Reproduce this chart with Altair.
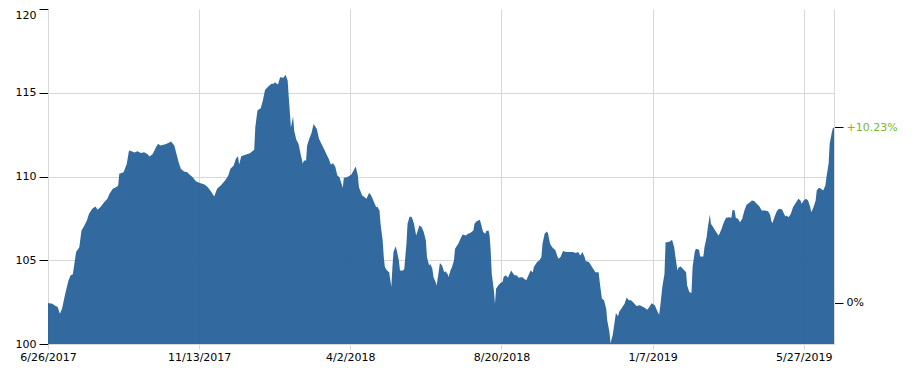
import altair as alt
import pandas as pd

start_date = "2017-06-26"
end_date = "2019-06-24"

# days since 2017-06-26
day_offsets = [
    0, 4, 7, 9, 11, 13, 16, 19, 21, 23, 24, 26, 29, 31, 33, 36, 38, 41, 44, 46,
    49, 52, 55, 57, 60, 63, 65, 66, 70, 73, 75, 78, 80, 83, 86, 89, 92, 94, 97, 100,
    102, 104, 108, 111, 114, 117, 119, 121, 123, 126, 129, 131, 134, 137, 140, 145, 148, 151, 154, 156,
    157, 160, 164, 167, 169, 172, 174, 176, 177, 179, 182, 187, 191, 192, 194, 197, 199, 201, 204, 207,
    209, 210, 213, 215, 218, 220, 222, 223, 225, 227, 228, 230, 232, 234, 236, 237, 239, 240, 242, 244,
    246, 249, 251, 253, 256, 258, 260, 262, 264, 266, 268, 270, 273, 274, 277, 281, 283, 285, 287, 288,
    291, 293, 295, 297, 298, 300, 302, 304, 305, 307, 308, 310, 311, 312, 314, 316, 318, 319, 320, 322,
    323, 325, 326, 329, 330, 332, 333, 335, 337, 339, 341, 343, 344, 346, 348, 350, 351, 353, 354, 356,
    357, 359, 360, 362, 363, 365, 367, 368, 370, 371, 373, 374, 376, 377, 380, 382, 384, 387, 389, 391,
    394, 395, 397, 400, 401, 403, 405, 406, 408, 409, 410, 411, 413, 414, 415, 417, 419, 421, 422, 424,
    426, 427, 429, 430, 432, 434, 436, 439, 441, 443, 445, 447, 449, 450, 453, 455, 457, 458, 460, 462,
    463, 465, 467, 470, 472, 473, 475, 477, 480, 483, 486, 489, 491, 493, 495, 497, 498, 501, 503, 506,
    507, 510, 511, 513, 515, 517, 518, 520, 521, 523, 525, 526, 528, 529, 532, 534, 536, 538, 540, 542,
    545, 548, 550, 553, 555, 557, 559, 562, 564, 566, 567, 569, 571, 572, 574, 576, 578, 580, 581, 583,
    584, 586, 588, 591, 592, 594, 596, 597, 599, 600, 603, 604, 607, 608, 610, 611, 613, 614, 616, 618,
    621, 622, 624, 626, 628, 631, 633, 634, 636, 637, 639, 641, 643, 645, 647, 649, 652, 654, 656, 659,
    661, 664, 667, 669, 670, 671, 673, 675, 677, 680, 681, 683, 684, 686, 688, 690, 693, 695, 697, 698,
    700, 702, 704, 706, 707, 709, 711, 712, 714, 716, 718, 720, 721, 723, 724, 726, 727, 728,
]

values = [
    102.45, 102.41, 102.27, 102.21, 101.81, 102.11, 103.01, 103.80, 104.10, 104.16,
    104.59, 105.49, 105.78, 106.78, 106.98, 107.38, 107.78, 108.07, 108.21, 108.01,
    108.21, 108.47, 108.67, 108.97, 109.27, 109.36, 109.46, 110.16, 110.26, 110.76,
    111.55, 111.49, 111.43, 111.51, 111.41, 111.45, 111.35, 111.19, 111.35, 111.75,
    111.95, 111.85, 111.91, 111.99, 112.09, 111.85, 111.35, 110.85, 110.46, 110.30,
    110.26, 110.12, 109.96, 109.72, 109.62, 109.52, 109.36, 109.11, 108.81, 109.17,
    109.30, 109.46, 109.76, 110.06, 110.46, 110.66, 111.06, 111.21, 110.72, 111.21,
    111.29, 111.39, 111.59, 112.94, 113.94, 114.07, 114.53, 115.17, 115.37, 115.53,
    115.53, 115.62, 115.49, 115.92, 115.89, 116.08, 115.72, 114.73, 112.94, 113.58,
    112.74, 112.19, 111.95, 111.35, 110.76, 110.95, 110.95, 111.85, 112.25, 112.58,
    113.14, 112.84, 112.25, 111.99, 111.59, 111.31, 111.06, 110.72, 110.79, 110.60,
    110.06, 109.96, 109.33, 109.92, 109.96, 110.12, 110.36, 110.60, 110.06, 109.36,
    108.87, 108.77, 108.67, 108.97, 109.00, 108.77, 108.47, 108.17, 108.21, 107.97,
    107.18, 106.18, 105.19, 104.59, 104.39, 104.29, 103.40, 104.59, 105.49, 105.83,
    105.59, 104.99, 104.39, 104.39, 104.50, 105.99, 107.18, 107.61, 107.57, 107.18,
    106.48, 106.88, 107.08, 106.98, 106.68, 106.18, 105.19, 104.69, 104.79, 104.50,
    104.00, 103.70, 103.50, 104.39, 104.83, 104.69, 104.29, 104.35, 104.20, 104.00,
    104.44, 104.56, 104.99, 105.69, 105.99, 106.28, 106.54, 106.48, 106.58, 106.62,
    106.78, 107.18, 107.33, 107.42, 107.18, 106.68, 106.58, 106.74, 106.78, 106.48,
    105.59, 104.20, 103.20, 102.41, 103.30, 103.50, 103.64, 103.70, 104.00, 104.10,
    103.96, 104.10, 104.39, 104.29, 104.10, 104.10, 103.96, 104.00, 103.90, 103.80,
    104.10, 104.39, 104.29, 104.59, 104.89, 104.99, 105.19, 105.99, 106.58, 106.72,
    106.62, 105.99, 105.78, 105.59, 105.19, 105.09, 105.23, 105.55, 105.49, 105.49,
    105.49, 105.43, 105.49, 105.29, 105.49, 105.19, 104.95, 104.89, 104.69, 104.39,
    104.29, 104.29, 103.70, 102.71, 102.61, 102.11, 101.41, 100.72, 100.06, 100.52,
    101.41, 101.85, 101.65, 101.91, 102.21, 102.41, 102.77, 102.61, 102.61, 102.50,
    102.27, 102.31, 102.25, 102.15, 102.05, 102.21, 102.44, 102.31, 102.01, 101.75,
    102.21, 103.40, 104.20, 106.08, 106.08, 106.12, 106.23, 105.78, 105.29, 104.39,
    104.56, 104.63, 104.50, 104.29, 103.50, 103.10, 103.04, 104.59, 105.49, 105.69,
    105.63, 105.23, 105.23, 105.78, 106.38, 106.88, 107.73, 107.18, 106.98, 106.78,
    106.48, 106.58, 106.90, 107.27, 107.54, 107.57, 107.54, 108.01, 107.97, 107.54,
    107.48, 107.27, 107.48, 107.97, 108.31, 108.41, 108.57, 108.53, 108.41, 108.21,
    107.97, 107.97, 107.93, 107.67, 107.33, 107.22, 107.61, 107.93, 108.07, 108.03,
    107.87, 107.61, 107.67, 107.57, 107.78, 108.17, 108.47, 108.67, 108.57, 108.37,
    108.57, 108.67, 108.57, 108.17, 107.87, 108.17, 108.57, 109.17, 109.33, 109.27,
    109.17, 109.46, 109.96, 110.76, 111.95, 112.64, 112.90, 112.93,
]

x_tick_dates = ["2017-06-26", "2017-11-13", "2018-04-02", "2018-08-20", "2019-01-07", "2019-05-27"]
y_ticks = [100, 105, 110, 115, 120]
y_domain = [100, 120]

base_value = values[0]
last_value = values[-1]
change_label = "+{:.2f}%".format((last_value / base_value - 1) * 100)
zero_label = "0%"

GRID = "#d8d8d8"
GREEN = "#76b82a"
FILL = "#256199"


def to_dt(s):
    t = pd.Timestamp(s)
    return alt.DateTime(year=t.year, month=t.month, date=t.day)


dates = pd.Timestamp(start_date) + pd.to_timedelta(day_offsets, unit="D")
df = pd.DataFrame({"date": dates, "value": values})

x_scale = alt.Scale(domain=[to_dt(start_date), to_dt(end_date)])
y_scale = alt.Scale(domain=y_domain, nice=False, zero=False)

x_axis = alt.Axis(
    values=[to_dt(d) for d in x_tick_dates],
    format="%-m/%-d/%Y",
    title=None,
    grid=True,
    gridColor=GRID,
    tickColor=GRID,
    tickSize=5,
    domainColor=GRID,
    labelPadding=2,
    labelFlush=False,
    labelOverlap=False,
)

left_axis = alt.Axis(
    values=y_ticks,
    title=None,
    orient="left",
    grid=True,
    gridColor=GRID,
    gridOpacity={"condition": {"test": "datum.value == 100 || datum.value == 120", "value": 0}, "value": 1},
    tickColor="#000",
    tickSize=9,
    labelPadding=3,
    domainColor=GRID,
    labelBaseline={"condition": {"test": "datum.value == 120", "value": "top"}, "value": "middle"},
)

mid = (base_value + last_value) / 2
right_axis = alt.Axis(
    values=[base_value, last_value],
    title=None,
    orient="right",
    grid=False,
    tickColor="#000",
    tickSize=9,
    labelPadding=3,
    domainColor=GRID,
    labelExpr="datum.value > {} ? '{}' : '{}'".format(mid, change_label, zero_label),
    labelColor={"condition": {"test": "datum.value > {}".format(mid), "value": GREEN}, "value": "#000"},
)

area = alt.Chart(df).mark_area(color=FILL, opacity=0.94, clip=True).encode(
    x=alt.X("date:T", scale=x_scale, axis=x_axis),
    y=alt.Y("value:Q", scale=y_scale, axis=left_axis),
    y2=alt.datum(100),
)

right = alt.Chart(df).mark_line(opacity=0).encode(
    x=alt.X("date:T", scale=x_scale, axis=x_axis),
    y=alt.Y("value:Q", scale=y_scale, axis=right_axis),
)

chart = (
    alt.layer(area, right)
    .resolve_axis(y="independent")
    .properties(width=786, height=335, padding={"left": 7, "top": 0, "right": 10, "bottom": 0})
    .configure_view(stroke=None)
    .configure_axis(labelFont="DejaVu Sans", labelFontSize=11, labelColor="#000")
)

chart.save("out.html", embed_options={"renderer": "svg", "actions": False})
